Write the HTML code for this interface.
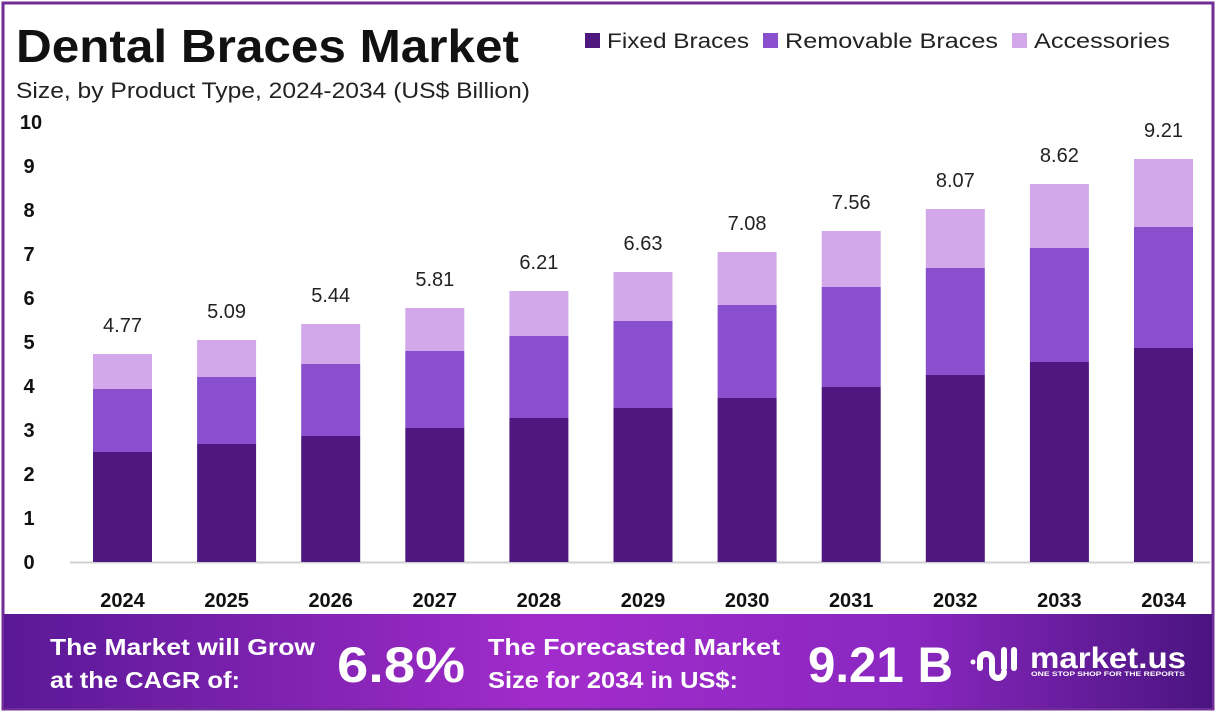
<!DOCTYPE html>
<html><head><meta charset="utf-8"><style>
html,body{margin:0;padding:0;background:#fff}
svg{display:block}
text{font-family:"Liberation Sans",sans-serif}
</style></head><body>
<svg width="1216" height="712" viewBox="0 0 1216 712" xmlns="http://www.w3.org/2000/svg">
<defs>
<linearGradient id="bg" x1="0" x2="1" y1="0" y2="0">
<stop offset="0" stop-color="#5a1896"/>
<stop offset="0.45" stop-color="#a22ccb"/>
<stop offset="0.75" stop-color="#8a27c0"/>
<stop offset="1" stop-color="#4a1480"/>
</linearGradient>
</defs>
<rect x="0" y="0" width="1216" height="712" fill="#fff"/>
<rect x="3" y="3" width="1210" height="706" fill="none" stroke="#6f2d96" stroke-width="3"/>
<text x="16" y="62" font-size="46" font-weight="bold" fill="#111" textLength="503" lengthAdjust="spacingAndGlyphs">Dental Braces Market</text>
<text x="16" y="98" font-size="22" fill="#222" textLength="514" lengthAdjust="spacingAndGlyphs">Size, by Product Type, 2024-2034 (US$ Billion)</text>
<rect x="585" y="33" width="15" height="15" fill="#4f1780"/>
<text x="607" y="48" font-size="21" fill="#222" textLength="142" lengthAdjust="spacingAndGlyphs">Fixed Braces</text>
<rect x="763" y="33" width="15" height="15" fill="#8a4fcc"/>
<text x="785" y="48" font-size="21" fill="#222" textLength="213" lengthAdjust="spacingAndGlyphs">Removable Braces</text>
<rect x="1012" y="33" width="15" height="15" fill="#d2a8ea"/>
<text x="1034" y="48" font-size="21" fill="#222" textLength="136" lengthAdjust="spacingAndGlyphs">Accessories</text>
<g font-size="20" font-weight="bold" fill="#111" text-anchor="middle">
<text x="29" y="569">0</text><text x="29" y="525">1</text><text x="29" y="481">2</text><text x="29" y="437">3</text><text x="29" y="393">4</text><text x="29" y="349">5</text><text x="29" y="305">6</text><text x="29" y="261">7</text><text x="29" y="217">8</text><text x="29" y="173">9</text><text x="31" y="129">10</text>
</g>
<line x1="70" y1="562.5" x2="1210" y2="562.5" stroke="#d0d0d0" stroke-width="2"/>
<g id="bars"></g>
<g font-size="20" fill="#222" text-anchor="middle" id="vals"></g>
<g font-size="20" font-weight="bold" fill="#111" text-anchor="middle" id="yrs"></g>
<rect x="4" y="614" width="1208" height="94" fill="url(#bg)"/>
<g fill="#fff" font-weight="bold">
<text x="50" y="655" font-size="23" textLength="265" lengthAdjust="spacingAndGlyphs">The Market will Grow</text>
<text x="50" y="688" font-size="23" textLength="190" lengthAdjust="spacingAndGlyphs">at the CAGR of:</text>
<text x="337" y="682" font-size="50" textLength="128" lengthAdjust="spacingAndGlyphs">6.8%</text>
<text x="488" y="655" font-size="23" textLength="292" lengthAdjust="spacingAndGlyphs">The Forecasted Market</text>
<text x="488" y="688" font-size="23" textLength="250" lengthAdjust="spacingAndGlyphs">Size for 2034 in US$:</text>
<text x="808" y="682" font-size="50" textLength="145" lengthAdjust="spacingAndGlyphs">9.21 B</text>
<text x="1030" y="668" font-size="30" textLength="156" lengthAdjust="spacingAndGlyphs">market.us</text>
<text x="1031" y="676" font-size="6.5" textLength="154" lengthAdjust="spacingAndGlyphs">ONE STOP SHOP FOR THE REPORTS</text>
</g>
<g fill="none" stroke="#fff" stroke-width="6" stroke-linecap="round">
<circle cx="973" cy="662" r="2.5" fill="#fff" stroke="none"/>
<path d="M980 668 V660 a6 6 0 0 1 12 0 V672 a6 6 0 0 0 12 0"/>
<path d="M1004 650 V668"/>
<path d="M1014 650 V668"/>
</g>
<script>
var d=[[452,389,354,"4.77"],[444,377,340,"5.09"],[436,364,324,"5.44"],[428,351,308,"5.81"],[418,336,291,"6.21"],[408,321,272,"6.63"],[398,305,252,"7.08"],[387,287,231,"7.56"],[375,268,209,"8.07"],[362,248,184,"8.62"],[348,227,159,"9.21"]];
var ns="http://www.w3.org/2000/svg",b=document.getElementById("bars"),v=document.getElementById("vals"),y=document.getElementById("yrs");
function r(x,y1,y2,c){var e=document.createElementNS(ns,"rect");e.setAttribute("x",x);e.setAttribute("y",y1);e.setAttribute("width",59);e.setAttribute("height",y2-y1);e.setAttribute("fill",c);b.appendChild(e);}
function t(p,x,yy,s){var e=document.createElementNS(ns,"text");e.setAttribute("x",x);e.setAttribute("y",yy);e.textContent=s;p.appendChild(e);}
for(var i=0;i<11;i++){var cx=122.5+i*104.1,x=cx-29.5,q=d[i];
r(x,q[0],562,"#4f1780");r(x,q[1],q[0],"#8a4fcc");r(x,q[2],q[1],"#d2a8ea");
t(v,cx,q[2]-22,q[3]);t(y,cx,607,String(2024+i));}
</script>
</svg>
</body></html>
